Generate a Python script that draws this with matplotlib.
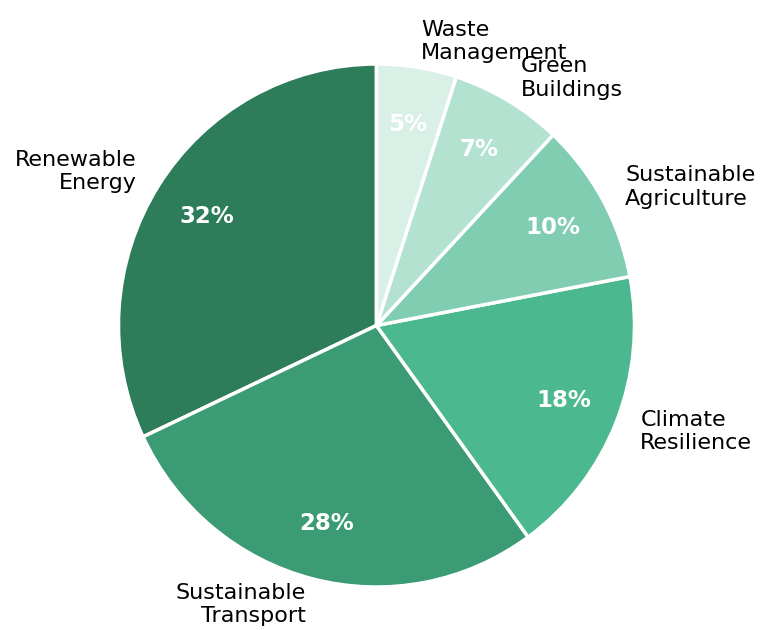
import matplotlib
matplotlib.use("Agg")
import matplotlib.pyplot as plt

categories = ["Renewable\nEnergy", "Sustainable\nTransport", "Climate\nResilience",
              "Sustainable\nAgriculture", "Green\nBuildings", "Waste\nManagement"]
values = [32, 28, 18, 10, 7, 5]
colors = ["#2e7d5a", "#3a9b75", "#4cb88f", "#80cdb1", "#b3e2d1", "#d8f0e5"]

fig = plt.figure(figsize=(7.62, 6.3), dpi=100)
ax = fig.add_axes([0, 0, 1, 1])
wedges, texts, autotexts = ax.pie(
    values, labels=categories, colors=colors, startangle=90, counterclock=True,
    autopct="%1.0f%%", pctdistance=0.78, labeldistance=1.1,
    wedgeprops=dict(edgecolor="white", linewidth=2.5),
    textprops=dict(fontsize=16),
)
for t in autotexts:
    t.set_color("white")
    t.set_fontweight("bold")
    t.set_fontsize(16.5)
ppux, ppuy = 258.0, 261.5
cx, cy = 376.5, 325.5
ax.set_aspect("auto")
ax.set_xlim(-cx / ppux, (762 - cx) / ppux)
ax.set_ylim(-(630 - cy) / ppuy, cy / ppuy)
ax.axis("off")
fig.savefig("out.png", dpi=100)
